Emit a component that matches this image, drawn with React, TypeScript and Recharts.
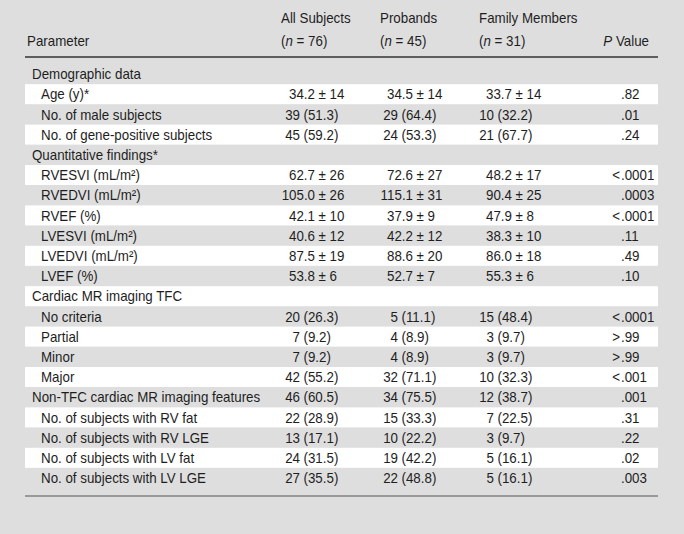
import React from 'react';
import { BarChart, Bar, XAxis, YAxis } from 'recharts';

// table content, one entry per row
const parameters = [
  'Demographic data', 'Age (y)*', 'No. of male subjects', 'No. of gene-positive subjects',
  'Quantitative findings*', 'RVESVI (mL/m²)', 'RVEDVI (mL/m²)', 'RVEF (%)',
  'LVESVI (mL/m²)', 'LVEDVI (mL/m²)', 'LVEF (%)', 'Cardiac MR imaging TFC',
  'No criteria', 'Partial', 'Minor', 'Major', 'Non-TFC cardiac MR imaging features',
  'No. of subjects with RV fat', 'No. of subjects with RV LGE',
  'No. of subjects with LV fat', 'No. of subjects with LV LGE',
];
const isSection = [
  true, false, false, false, true, false, false, false, false, false, false,
  true, false, false, false, false, true, false, false, false, false,
];
const allSubjects = [
  '', '34.2 ± 14', '39 (51.3)', '45 (59.2)', '', '62.7 ± 26', '105.0 ± 26', '42.1 ± 10',
  '40.6 ± 12', '87.5 ± 19', '53.8 ± 6', '', '20 (26.3)', '7 (9.2)', '7 (9.2)', '42 (55.2)',
  '46 (60.5)', '22 (28.9)', '13 (17.1)', '24 (31.5)', '27 (35.5)',
];
const probands = [
  '', '34.5 ± 14', '29 (64.4)', '24 (53.3)', '', '72.6 ± 27', '115.1 ± 31', '37.9 ± 9',
  '42.2 ± 12', '88.6 ± 20', '52.7 ± 7', '', '5 (11.1)', '4 (8.9)', '4 (8.9)', '32 (71.1)',
  '34 (75.5)', '15 (33.3)', '10 (22.2)', '19 (42.2)', '22 (48.8)',
];
const familyMembers = [
  '', '33.7 ± 14', '10 (32.2)', '21 (67.7)', '', '48.2 ± 17', '90.4 ± 25', '47.9 ± 8',
  '38.3 ± 10', '86.0 ± 18', '55.3 ± 6', '', '15 (48.4)', '3 (9.7)', '3 (9.7)', '10 (32.3)',
  '12 (38.7)', '7 (22.5)', '3 (9.7)', '5 (16.1)', '5 (16.1)',
];
const pValues = [
  '', '.82', '.01', '.24', '', '<.0001', '.0003', '<.0001', '.11', '.49', '.10', '',
  '<.0001', '>.99', '>.99', '<.001', '.001', '.31', '.22', '.02', '.003',
];
const groupNames = ['All Subjects', 'Probands', 'Family Members'];
const groupSizes = [76, 45, 31];

const rows = parameters.map((name, i) => ({
  name,
  section: isSection[i],
  all: allSubjects[i],
  probands: probands[i],
  family: familyMembers[i],
  p: pValues[i],
  span: 1,
}));

const W = 684;
const H = 534;
const LEFT = 25;
const RIGHT = 658;
const TOP = 64;
const ROW_H = 20.2;
const FONT = '"Liberation Sans", Arial, sans-serif';
const FS = 14.5;
const SQUEEZE = 0.92; // the source uses a condensed face
const INK = '#1e1e1e';
const BG = '#dedede';

// column anchors: end of mean value, end of count, header start
const anchors = [
  { mean: 315, count: 300, head: 281 },
  { mean: 413, count: 398, head: 380 },
  { mean: 512, count: 494, head: 479 },
];
const P_DOT = 621;

const T = ({ x, y, anchor = 'start', children }: any) => (
  <text transform={`translate(${x},${y}) scale(${SQUEEZE},1)`} textAnchor={anchor}>
    {children}
  </text>
);

const Cell = ({ value, col, ty }: any) => {
  if (!value) return null;
  const a = anchors[col];
  if (value.includes(' ± ')) {
    const [m, sd] = value.split(' ± ');
    return (
      <g>
        <T x={a.mean} y={ty} anchor="end">{m}</T>
        <T x={a.mean + 3.5} y={ty}>± {sd}</T>
      </g>
    );
  }
  const k = value.indexOf(' (');
  return (
    <g>
      <T x={a.count} y={ty} anchor="end">{value.slice(0, k)}</T>
      <T x={a.count + 3.5} y={ty}>{value.slice(k + 1)}</T>
    </g>
  );
};

const Header = () => (
  <g>
    {groupNames.map((g, i) => (
      <g key={g}>
        <T x={anchors[i].head} y={23}>{g}</T>
        <T x={anchors[i].head} y={46}>
          (<tspan fontStyle="italic">n</tspan> = {groupSizes[i]})
        </T>
      </g>
    ))}
    <T x={LEFT + 2} y={46}>Parameter</T>
    <T x={649} y={46} anchor="end">
      <tspan fontStyle="italic">P</tspan> Value
    </T>
    <line x1={LEFT} x2={RIGHT} y1={57} y2={57} stroke="#333" strokeWidth={1.3} />
  </g>
);

const RowShape = (props: any) => {
  const { x, y, width, height, index, payload } = props;
  const ty = y + height / 2 + 5.2;
  const last = index === rows.length - 1;
  let pLeft = '';
  let pRight = '';
  if (payload.p) {
    const d = payload.p.indexOf('.');
    pLeft = payload.p.slice(0, d);
    pRight = payload.p.slice(d);
  }
  return (
    <g fontFamily={FONT} fontSize={FS} fill={INK}>
      {index === 0 && <Header />}
      {index % 2 === 1 && <rect x={x} y={y} width={width} height={height} fill="#ffffff" />}
      <T x={payload.section ? 32 : 41} y={ty}>{payload.name}</T>
      <Cell value={payload.all} col={0} ty={ty} />
      <Cell value={payload.probands} col={1} ty={ty} />
      <Cell value={payload.family} col={2} ty={ty} />
      {pLeft && <T x={P_DOT - 1} y={ty} anchor="end">{pLeft}</T>}
      {pRight && <T x={P_DOT} y={ty}>{pRight}</T>}
      {last && (
        <line x1={LEFT} x2={RIGHT} y1={y + height + 8} y2={y + height + 8} stroke="#555" strokeWidth={1} />
      )}
    </g>
  );
};

export default function App() {
  return (
    <div style={{ position: 'absolute', left: 0, top: 0, width: W, height: H, background: BG }}>
      <BarChart
        width={W}
        height={H}
        layout="vertical"
        data={rows}
        barCategoryGap={0}
        margin={{ top: TOP, left: LEFT, right: W - RIGHT, bottom: H - TOP - ROW_H * rows.length }}
      >
        <XAxis type="number" domain={[0, 1]} hide />
        <YAxis type="category" dataKey="name" hide />
        <Bar dataKey="span" isAnimationActive={false} shape={RowShape} />
      </BarChart>
    </div>
  );
}
